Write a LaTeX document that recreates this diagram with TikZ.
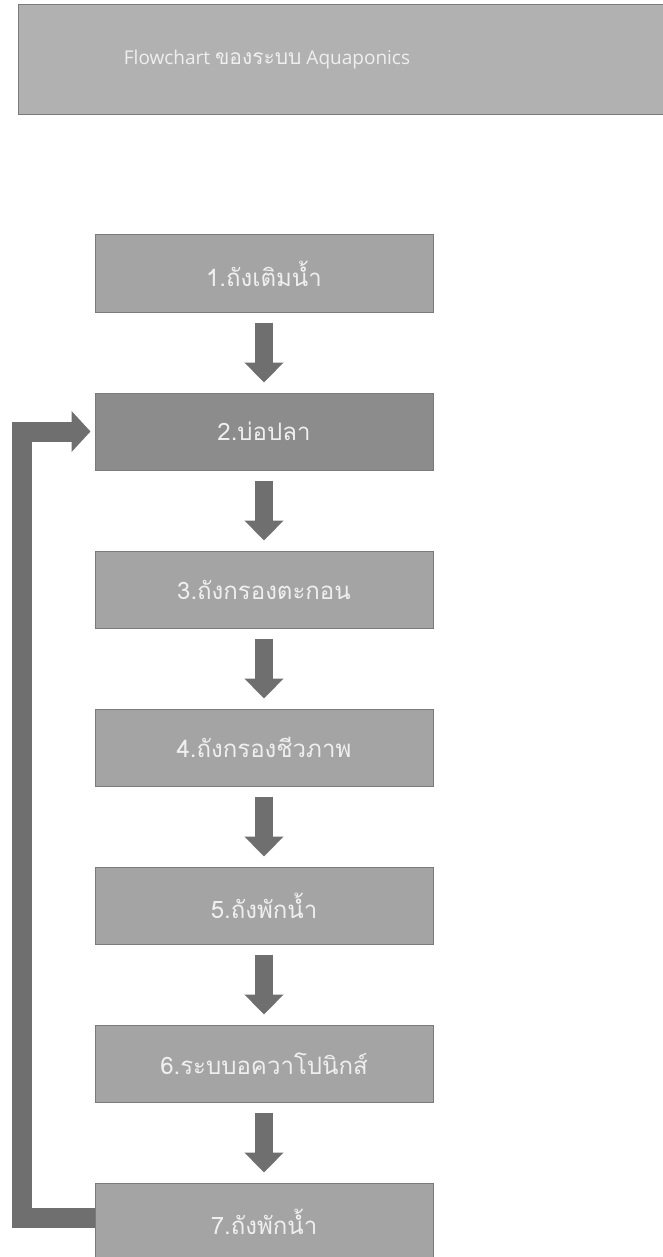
\documentclass[tikz,border=0pt]{standalone}
\usepackage{fontspec}
\setmainfont{Open Sans}
\newfontfamily\thaifont[Script=Thai]{Loma}
\usetikzlibrary{arrows.meta,calc}
\definecolor{boxgray}{HTML}{A4A4A4}
\definecolor{boxdark}{HTML}{8C8C8C}
\definecolor{titlegray}{HTML}{B1B1B1}
\definecolor{arrowgray}{HTML}{6F6F6F}
\definecolor{edgegray}{HTML}{7A7A7A}
\definecolor{txt}{HTML}{EFEFEF}
\tikzset{
  stepbox/.style={draw=edgegray, line width=1pt, fill=boxgray, minimum width=338pt, minimum height=77pt, inner sep=0pt, text=txt, font=\thaifont\fontsize{24pt}{27pt}\selectfont},
  downarrow/.style={draw=arrowgray, line width=18pt, -{Triangle[width=38pt,length=20pt]}, shorten <=10pt, shorten >=10pt},
  backarrow/.style={draw=arrowgray, line width=20pt, line join=miter, -{Triangle[width=40pt,length=19pt]}, shorten >=4pt}
}
\begin{document}
\begin{tikzpicture}[x=1pt,y=-1pt]
\useasboundingbox (0,0) rectangle (663,1257);
\fill[white] (0,0) rectangle (663,1257);
% title
\draw[edgegray, line width=1pt, fill=titlegray] (18,5) rectangle (675,115);
\node[text=txt, font=\fontsize{19pt}{22pt}\selectfont] (title) at (267,60) {Flowchart {\thaifont\fontsize{21pt}{22pt}\selectfont ของระบบ} Aquaponics};
% boxes
\node[stepbox] (b1) at (264,273.5) {1.ถังเติมน้ำ};
\node[stepbox, fill=boxdark] (b2) at (264,431.5) {2.บ่อปลา};
\node[stepbox] (b3) at (264,589.5) {3.ถังกรองตะกอน};
\node[stepbox] (b4) at (264,747.5) {4.ถังกรองชีวภาพ};
\node[stepbox] (b5) at (264,905.5) {5.ถังพักน้ำ};
\node[stepbox] (b6) at (264,1063.5) {6.ระบบอควาโปนิกส์};
\node[stepbox] (b7) at (264,1221.5) {7.ถังพักน้ำ};
% arrows
\draw[downarrow] (b1.south) -- (b2.north);
\draw[downarrow] (b2.south) -- (b3.north);
\draw[downarrow] (b3.south) -- (b4.north);
\draw[downarrow] (b4.south) -- (b5.north);
\draw[downarrow] (b5.south) -- (b6.north);
\draw[downarrow] (b6.south) -- (b7.north);
\coordinate (fb) at (22,0);
\coordinate (s7) at ($(b7.west)+(0,-4)$);
\draw[backarrow] (s7) -- (s7 -| fb) -- (b2.west -| fb) -- (b2.west);
\end{tikzpicture}
\end{document}
